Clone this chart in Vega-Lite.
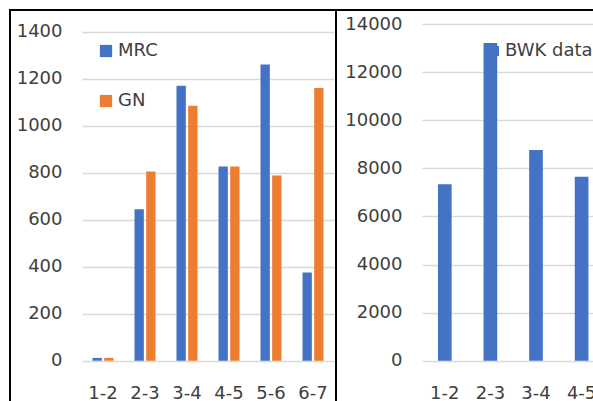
{
  "$schema": "https://vega.github.io/schema/vega-lite/v6.json",
  "padding": {"left": 9, "top": 9, "right": 0, "bottom": 0},
  "spacing": 0,
  "bounds": "flush",
  "config": {
    "view": {"stroke": "#000000", "strokeWidth": 2},
    "font": "DejaVu Sans",
    "axis": {"labelFont": "DejaVu Sans", "labelFontSize": 18, "labelColor": "#404040", "domain": false, "ticks": false, "gridColor": "#D9D9D9", "gridWidth": 1.5},
    "legend": {"labelFont": "DejaVu Sans", "labelFontSize": 18, "labelColor": "#404040"}
  },
  "datasets": {
    "left": [
      {"pair": "1-2", "series": "MRC", "value": 12},
      {"pair": "1-2", "series": "GN", "value": 12},
      {"pair": "2-3", "series": "MRC", "value": 645},
      {"pair": "2-3", "series": "GN", "value": 805},
      {"pair": "3-4", "series": "MRC", "value": 1170},
      {"pair": "3-4", "series": "GN", "value": 1085},
      {"pair": "4-5", "series": "MRC", "value": 826},
      {"pair": "4-5", "series": "GN", "value": 826},
      {"pair": "5-6", "series": "MRC", "value": 1260},
      {"pair": "5-6", "series": "GN", "value": 788},
      {"pair": "6-7", "series": "MRC", "value": 375},
      {"pair": "6-7", "series": "GN", "value": 1160}
    ],
    "right": [
      {"pair": "1-2", "series": "BWK data", "value": 7340},
      {"pair": "2-3", "series": "BWK data", "value": 13210},
      {"pair": "3-4", "series": "BWK data", "value": 8765},
      {"pair": "4-5", "series": "BWK data", "value": 7645}
    ]
  },
  "hconcat": [
    {
      "width": 326,
      "height": 410,
      "data": {"name": "left"},
      "mark": {"type": "bar"},
      "encoding": {
        "x": {"field": "pair", "type": "nominal", "sort": null, "title": null,
          "scale": {"range": [72, 324], "paddingInner": 0.5, "paddingOuter": 0.25},
          "axis": {"labelAngle": 0, "grid": false, "offset": -36, "labelPadding": 0, "labelBaseline": "top"}},
        "xOffset": {"field": "series", "type": "nominal", "sort": ["MRC", "GN"], "scale": {"paddingInner": 0.2}},
        "y": {"field": "value", "type": "quantitative", "title": null, "stack": null,
          "scale": {"domain": [0, 1400], "range": [350.7, 21.7], "nice": false},
          "axis": {"values": [0, 200, 400, 600, 800, 1000, 1200, 1400], "format": "d", "offset": -52, "labelPadding": 0, "grid": true}},
        "color": {"field": "series", "type": "nominal", "sort": ["MRC", "GN"], "title": null,
          "scale": {"domain": ["MRC", "GN"], "range": ["#4472C4", "#ED7D31"]},
          "legend": {"orient": "none", "legendX": 87, "legendY": 32, "symbolType": "square", "symbolSize": 150, "symbolStrokeWidth": 0, "rowPadding": 32, "labelOffset": 3}}
      }
    },
    {
      "width": 270,
      "height": 410,
      "data": {"name": "right"},
      "mark": {"type": "bar"},
      "encoding": {
        "x": {"field": "pair", "type": "nominal", "sort": null, "title": null,
          "scale": {"range": [86, 268.4], "paddingInner": 0.7, "paddingOuter": 0.35},
          "axis": {"labelAngle": 0, "grid": false, "offset": -36, "labelPadding": 0, "labelBaseline": "top"}},
        "y": {"field": "value", "type": "quantitative", "title": null, "stack": null,
          "scale": {"domain": [0, 14000], "range": [350.7, 14], "nice": false},
          "axis": {"values": [0, 2000, 4000, 6000, 8000, 10000, 12000, 14000], "format": "d", "offset": -66, "labelPadding": 0, "grid": true}},
        "color": {"field": "series", "type": "nominal", "title": null,
          "scale": {"domain": ["BWK data"], "range": ["#4472C4"]},
          "legend": {"orient": "none", "legendX": 149, "legendY": 32, "symbolType": "square", "symbolSize": 100, "symbolStrokeWidth": 0, "labelOffset": 2}}
      }
    }
  ],
  "resolve": {"scale": {"color": "independent"}, "legend": {"color": "independent"}}
}
